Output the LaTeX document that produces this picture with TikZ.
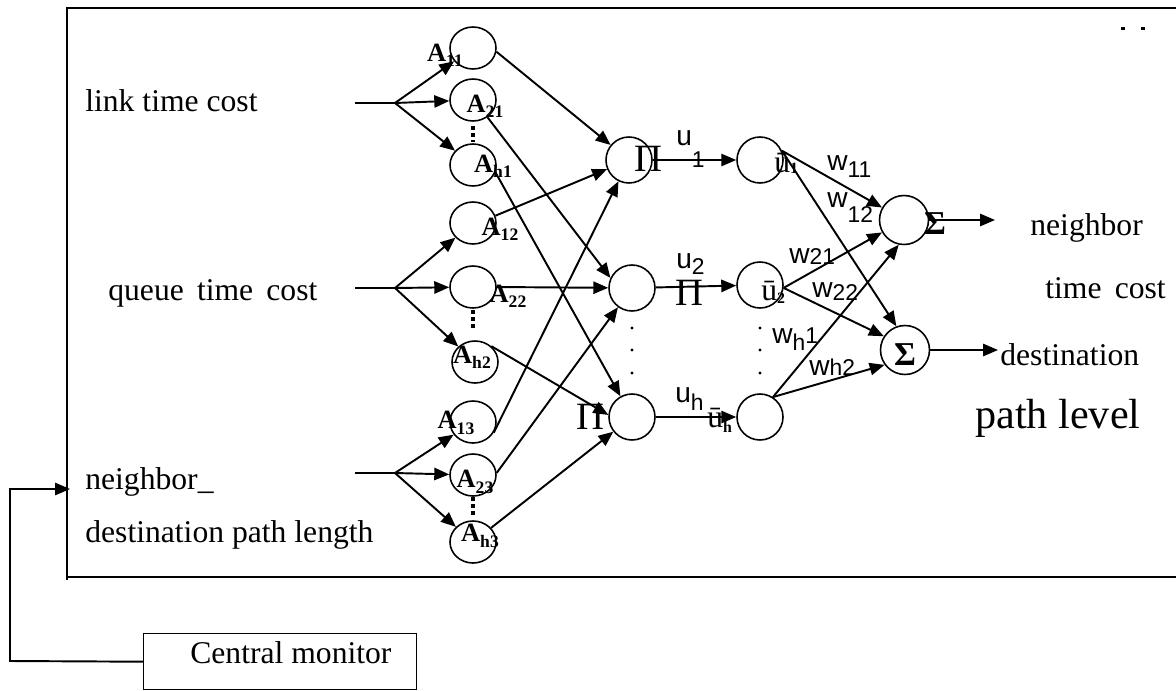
\documentclass[tikz,border=0pt]{standalone}
\usepackage{fontspec}
\setmainfont{Liberation Serif}
\newfontfamily\sansf{Liberation Sans}
\usetikzlibrary{arrows.meta,shapes.geometric}
\newcommand\Alab[1]{{\fontsize{15}{15}\selectfont\bfseries A}\raisebox{-3pt}{\fontsize{10}{10}\selectfont\bfseries #1}}
\newcommand\ubl[2]{{\fontsize{18}{18}\selectfont ū}\raisebox{#2}{\fontsize{9}{9}\selectfont\bfseries #1}}
\newcommand\PIlab{{\fontsize{22}{22}\selectfont Π}}
\newcommand\SUMlab{{\fontsize{19}{19}\selectfont\bfseries Σ}}
\newcommand\sw[2]{{\sansf\fontsize{16}{16}\selectfont w\raisebox{#2}{\fontsize{13}{13}\selectfont #1}}}
\newcommand\su[2]{{\sansf\fontsize{16}{16}\selectfont u\raisebox{#2}{\fontsize{13}{13}\selectfont #1}}}
\tikzset{
  lw/.style={line width=1.1pt},
  arr/.style={line width=1.1pt,-{Triangle[length=8.5pt,width=7pt]}},
  enode/.style={ellipse,draw,line width=0.9pt,minimum width=0.92cm,minimum height=0.84cm,inner sep=0pt},
  cnode/.style={circle,draw,line width=0.9pt,minimum size=0.92cm,inner sep=0pt},
  snode/.style={circle,draw,line width=0.9pt,minimum size=0.98cm,inner sep=0pt},
  txt/.style={font=\fontsize{18}{20}\selectfont,inner sep=0pt,anchor=base west},
  lab/.style={inner sep=0pt},
  blab/.style={inner sep=0pt,anchor=base west},
  dots/.style={line width=2.2pt,dash pattern=on 2.3pt off 1.8pt},
}
\begin{document}
\begin{tikzpicture}[x=0.02cm,y=-0.02cm]
\useasboundingbox (0,0) rectangle (1176,690);
% frame
\draw[line width=1.3pt] (1176,8) -- (67,8) -- (67,580);
\draw[line width=1pt] (67,577) -- (1176,577);
\fill (1121,26.5) rectangle (1125,29.5);
\fill (1141,26.5) rectangle (1145,29.5);

% texts
\node[txt] (t1) at (85,111) {link time cost};
\node[txt] (t2) at (108,300) {queue\hspace{7.5pt}time\hspace{7.5pt}cost};
\node[txt] (t3) at (85,489) {neighbor\_};
\node[txt] (t4) at (85,542) {destination path length};
\node[txt] (o1) at (1030,235) {neighbor};
\node[txt] (o2) at (1045,298) {time\hspace{7.5pt}cost};
\node[txt] (o3) at (1000,365) {destination};
\node[txt,font=\fontsize{24}{26}\selectfont] (o4) at (975,428) {path level};

% central monitor
\node[draw,line width=0.8pt,minimum width=5.46cm,minimum height=1.12cm,anchor=north west,inner sep=0pt] (cmb) at (143,633) {};
\node[txt] (cmt) at (190,663) {Central monitor};
\coordinate (fb1) at (10,661);
\coordinate (fb2) at (10,489);
\coordinate (fb3) at (70,489);
\draw[arr] (cmb.west) -- (fb1) -- (fb2) -- (fb3);

% A nodes
\node[enode] (A11) at (473,48) {};
\node[enode] (A21) at (473,100) {};
\node[enode] (Ah1) at (473,165) {};
\node[enode] (A12) at (473,223) {};
\node[enode] (A22) at (473,287) {};
\node[enode] (Ah2) at (475,362) {};
\node[enode] (A13) at (473,422) {};
\node[enode] (A23) at (473,475) {};
\node[enode] (Ah3) at (473,542) {};

\draw[dots] (473,126) -- (473,142);
\draw[dots] (473,310) -- (473,331);
\draw[dots] (473,497) -- (473,518);

% forks
\coordinate (s1) at (355,103); \coordinate (f1) at (395,103);
\coordinate (s2) at (355,288); \coordinate (f2) at (395,288);
\coordinate (s3) at (355,473); \coordinate (f3) at (395,473);
\draw[lw] (s1) -- (f1);
\draw[lw] (s2) -- (f2);
\draw[lw] (s3) -- (f3);
\draw[arr] (f1) -- (A11);
\draw[arr] (f1) -- (A21);
\draw[arr] (f1) -- (Ah1);
\draw[arr] (f2) -- (A12);
\draw[arr] (f2) -- (A22);
\draw[arr] (f2) -- (Ah2);
\draw[arr] (f3) -- (A13);
\draw[arr] (f3) -- (A23);
\draw[arr] (f3) -- (Ah3);

% Pi nodes
\node[cnode] (P1) at (629,160) {};
\node[cnode] (P2) at (632,288) {};
\node[cnode] (Ph) at (632,417) {};
\foreach \yy in {328,350,373} {\fill (632,\yy) circle[radius=1.6];}

\draw[arr] (A11.-9) -- (P1);
\draw[arr] (A12.18) -- (P1);
\draw[arr] (A13.-27) -- (P1);
\draw[arr] (A21.-50) -- (P2.155);
\draw[arr] (A22.east) -- (P2);
\draw[arr] (A23.5) -- (P2);
\draw[arr] (Ah1.-18) -- (Ph);
\draw[arr] (Ah2.44) -- (Ph.175);
\draw[arr] (Ah3.38) -- (Ph);

% u-bar nodes
\node[cnode] (U1) at (760,160) {};
\node[cnode] (U2) at (760,285) {};
\node[cnode] (Uh) at (760,417) {};
\foreach \yy in {328,350,373} {\fill (760,\yy) circle[radius=1.6];}

\draw[arr] (P1) -- (U1);
\draw[arr] (P2) -- (U2);
\draw[arr] (Ph) -- (Uh);

% Sigma nodes
\node[snode] (S1) at (904,220) {};
\node[snode] (S2) at (905,350) {};

\draw[arr] (U1.23) -- (S1);
\draw[arr] (U1.23) -- (S2.110);
\draw[arr] (U2.-7) -- (S1);
\draw[arr] (U2.-7) -- (S2.147);
\draw[arr] (Uh.57) -- (S1.258);
\draw[arr] (Uh.57) -- (S2.216);

\coordinate (out1) at (995,220);
\coordinate (out2) at (998,350);
\draw[arr] (S1) -- (out1);
\draw[arr] (S2) -- (out2);

% A labels
\node[lab] (lA11) at (445,55) {\Alab{11}};
\node[lab] (lA21) at (485,106) {\Alab{21}};
\node[lab] (lAh1) at (493,166) {\Alab{h1}};
\node[lab] (lA12) at (500,229) {\Alab{12}};
\node[lab] (lA22) at (508,296) {\Alab{22}};
\node[lab] (lAh2) at (472,357) {\Alab{h2}};
\node[lab] (lA13) at (456,423) {\Alab{13}};
\node[lab] (lA23) at (475,482) {\Alab{23}};
\node[lab] (lAh3) at (480,536) {\Alab{h3}};

% Pi labels
\node[lab] (lP1) at (648,159) {\PIlab};
\node[lab] (lP2) at (689,293) {\PIlab};
\node[lab] (lPh) at (590,417) {\PIlab};

% u labels
\node[blab] (lu1) at (676,145) {\su{1}{-13pt}};
\node[blab] (lu2) at (676,268) {\su{2}{-3.5pt}};
\node[blab] (luh) at (675,402) {\su{h}{-5pt}};

% u-bar labels
\node[blab] (lU1) at (774,172) {\ubl{1}{-1pt}};
\node[blab] (lU2) at (761,300) {\ubl{2}{-2pt}};
\node[blab] (lUh) at (707,427) {\ubl{h}{-3pt}};

% w labels
\node[blab] (w11) at (827,170) {\sw{11}{-4.5pt}};
\node[blab] (w12) at (827,207) {\sw{12}{-9pt}};
\node[blab] (w21) at (789,263) {\sw{21}{-1pt}};
\node[blab] (w22) at (812,297) {\sw{22}{-2pt}};
\node[blab] (wh1) at (772,343) {\sw{h\raisebox{4pt}{1}}{-4pt}};
\node[blab] (wh2) at (809,375) {\sw{h2}{0pt}};

% Sigma labels
\node[lab] (lS1) at (935,224) {\SUMlab};
\node[lab] (lS2) at (905,355) {\SUMlab};
\end{tikzpicture}
\end{document}
